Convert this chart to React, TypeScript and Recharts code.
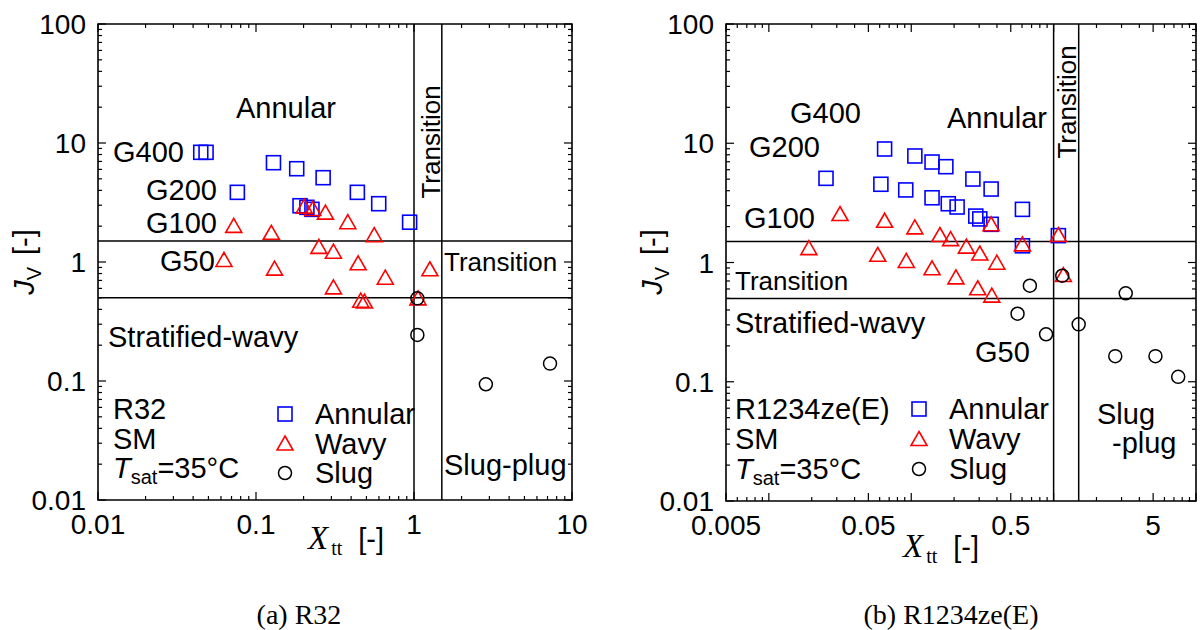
import React from "react";
import {
  ScatterChart,
  Scatter,
  XAxis,
  YAxis,
  ReferenceLine,
  ReferenceArea,
  Legend,
} from "recharts";

type Pt = { x: number; y: number };

// ---- axis ticks ----
const yTicks = [
  0.01, 0.02, 0.03, 0.04, 0.05, 0.06, 0.07, 0.08, 0.09,
  0.1, 0.2, 0.3, 0.4, 0.5, 0.6, 0.7, 0.8, 0.9,
  1, 2, 3, 4, 5, 6, 7, 8, 9,
  10, 20, 30, 40, 50, 60, 70, 80, 90, 100,
];
const yLabels = [0.01, 0.1, 1, 10, 100];

const xTicksA = [
  0.01, 0.02, 0.03, 0.04, 0.05, 0.06, 0.07, 0.08, 0.09,
  0.1, 0.2, 0.3, 0.4, 0.5, 0.6, 0.7, 0.8, 0.9,
  1, 2, 3, 4, 5, 6, 7, 8, 9, 10,
];
const xLabelsA = [0.01, 0.1, 1, 10];

const xTicksB = [
  0.005, 0.006, 0.007, 0.008, 0.009,
  0.01, 0.02, 0.03, 0.04, 0.05, 0.06, 0.07, 0.08, 0.09,
  0.1, 0.2, 0.3, 0.4, 0.5, 0.6, 0.7, 0.8, 0.9,
  1, 2, 3, 4, 5, 6, 7, 8, 9, 10,
];
const xLabelsB = [0.005, 0.05, 0.5, 5];
const decades = [0.01, 0.1, 1, 10, 100];

// flow-pattern boundaries
const boundaryX = [1, 1.5];
const boundaryY = [1.5, 0.5];

const seriesOrder = ["Annular", "Wavy", "Slug"];

// ---- (a) R32 ----
const annularA: Pt[] = [
  { x: 0.0447, y: 8.35 }, { x: 0.0483, y: 8.35 }, { x: 0.129, y: 6.83 },
  { x: 0.181, y: 6.08 }, { x: 0.266, y: 5.11 }, { x: 0.438, y: 3.85 },
  { x: 0.598, y: 3.09 }, { x: 0.938, y: 2.16 }, { x: 0.0762, y: 3.85 },
  { x: 0.19, y: 2.97 }, { x: 0.21, y: 2.88 }, { x: 0.226, y: 2.77 },
];
const wavyA: Pt[] = [
  { x: 0.0723, y: 2.01 }, { x: 0.125, y: 1.76 }, { x: 0.202, y: 2.92 },
  { x: 0.229, y: 2.79 }, { x: 0.275, y: 2.6 }, { x: 0.381, y: 2.16 },
  { x: 0.56, y: 1.68 }, { x: 0.25, y: 1.34 }, { x: 0.309, y: 1.22 },
  { x: 0.443, y: 0.975 }, { x: 0.658, y: 0.738 }, { x: 1.26, y: 0.869 },
  { x: 0.309, y: 0.612 }, { x: 0.46, y: 0.473 }, { x: 0.486, y: 0.465 },
  { x: 1.06, y: 0.495 }, { x: 0.0627, y: 1.04 }, { x: 0.131, y: 0.879 },
];
const slugA: Pt[] = [
  { x: 1.05, y: 0.495 }, { x: 1.05, y: 0.244 },
  { x: 2.85, y: 0.0938 }, { x: 7.26, y: 0.14 },
];

// ---- (b) R1234ze(E) ----
const annularB: Pt[] = [
  { x: 0.0252, y: 5.08 }, { x: 0.065, y: 8.95 }, { x: 0.0612, y: 4.53 },
  { x: 0.106, y: 7.82 }, { x: 0.14, y: 6.96 }, { x: 0.175, y: 6.36 },
  { x: 0.0915, y: 4.06 }, { x: 0.14, y: 3.49 }, { x: 0.182, y: 3.11 },
  { x: 0.21, y: 2.92 }, { x: 0.271, y: 5.01 }, { x: 0.364, y: 4.13 },
  { x: 0.284, y: 2.45 }, { x: 0.303, y: 2.32 }, { x: 0.364, y: 2.09 },
  { x: 0.604, y: 2.79 }, { x: 0.604, y: 1.38 }, { x: 1.08, y: 1.68 },
];
const wavyB: Pt[] = [
  { x: 0.0316, y: 2.55 }, { x: 0.065, y: 2.24 }, { x: 0.106, y: 1.97 },
  { x: 0.159, y: 1.7 }, { x: 0.189, y: 1.57 }, { x: 0.244, y: 1.36 },
  { x: 0.303, y: 1.19 }, { x: 0.399, y: 0.996 }, { x: 0.364, y: 2.09 },
  { x: 0.604, y: 1.42 }, { x: 1.08, y: 1.7 }, { x: 0.0191, y: 1.32 },
  { x: 0.0582, y: 1.16 }, { x: 0.0923, y: 1.03 }, { x: 0.14, y: 0.894 },
  { x: 0.206, y: 0.751 }, { x: 0.293, y: 0.608 }, { x: 0.368, y: 0.527 },
  { x: 1.17, y: 0.785 },
];
const slugB: Pt[] = [
  { x: 0.681, y: 0.639 }, { x: 1.15, y: 0.775 }, { x: 3.21, y: 0.552 },
  { x: 0.558, y: 0.372 }, { x: 0.885, y: 0.25 }, { x: 1.5, y: 0.303 },
  { x: 2.71, y: 0.164 }, { x: 5.19, y: 0.164 }, { x: 7.5, y: 0.11 },
];

const SANS = "'Liberation Sans', Arial, sans-serif";
const SERIF = "'Liberation Serif', 'Times New Roman', serif";
const BLUE = "#0000ff";
const RED = "#ff0000";

function Marker({ kind, cx, cy }: { kind: string; cx: number; cy: number }) {
  if (kind === "Annular")
    return <rect x={cx - 7} y={cy - 7} width={14} height={14} fill="none" stroke={BLUE} strokeWidth={1.6} />;
  if (kind === "Wavy")
    return (
      <polygon
        points={`${cx},${cy - 7.5} ${cx + 8},${cy + 6.5} ${cx - 8},${cy + 6.5}`}
        fill="none"
        stroke={RED}
        strokeWidth={1.6}
      />
    );
  return <circle cx={cx} cy={cy} r={6.5} fill="none" stroke="#000" strokeWidth={1.5} />;
}

const shapeFor = (kind: string) => (p: any) => <Marker kind={kind} cx={p.cx} cy={p.cy} />;

interface PanelProps {
  width: number;
  plotLeft: number;
  plotRight: number;
  plotBottom: number;
  xDomain: [number, number];
  xTicks: number[];
  xLabels: number[];
  annular: Pt[];
  wavy: Pt[];
  slug: Pt[];
  legend: { left: number; top: number; step: number };
  children?: React.ReactNode;
}

const TOP = 24;

function Panel(props: PanelProps) {
  const { width, plotLeft, plotRight, plotBottom, xDomain, xTicks, xLabels, legend } = props;
  const xLong = [...decades, ...xLabels];

  const xTick = (t: any) => {
    const v = t.payload.value;
    const x = t.x;
    const len = xLong.includes(v) ? 8 : 4;
    return (
      <g>
        <line x1={x} x2={x} y1={plotBottom} y2={plotBottom - len} stroke="#000" strokeWidth={1.2} />
        <line x1={x} x2={x} y1={TOP} y2={TOP + len} stroke="#000" strokeWidth={1.2} />
        {xLabels.includes(v) && (
          <text x={x} y={plotBottom + 34} textAnchor="middle" fontFamily={SANS} fontSize={28} fill="#000">
            {String(v)}
          </text>
        )}
      </g>
    );
  };

  const yTick = (t: any) => {
    const v = t.payload.value;
    const y = t.y;
    const len = yLabels.includes(v) ? 8 : 4;
    return (
      <g>
        <line x1={plotLeft} x2={plotLeft + len} y1={y} y2={y} stroke="#000" strokeWidth={1.2} />
        <line x1={plotRight} x2={plotRight - len} y1={y} y2={y} stroke="#000" strokeWidth={1.2} />
        {yLabels.includes(v) && (
          <text x={plotLeft - 12} y={y + 10} textAnchor="end" fontFamily={SANS} fontSize={28} fill="#000">
            {String(v)}
          </text>
        )}
      </g>
    );
  };

  const renderLegend = (lp: any) => {
    const items = [...((lp.payload || []) as any[])].sort(
      (a, b) => seriesOrder.indexOf(a.value) - seriesOrder.indexOf(b.value)
    );
    return (
      <svg width={200} height={100} style={{ display: "block", overflow: "visible" }}>
        {items.map((it, i) => (
          <g key={it.value}>
            <Marker kind={it.value} cx={15} cy={16 + i * legend.step} />
            <text x={45} y={26 + i * legend.step} fontFamily={SANS} fontSize={29} fill="#000">
              {it.value}
            </text>
          </g>
        ))}
      </svg>
    );
  };

  return (
    <div style={{ position: "relative", width, height: 630 }}>
      <ScatterChart
        width={width}
        height={630}
        margin={{ top: TOP, right: width - plotRight, bottom: 630 - plotBottom - 30, left: plotLeft - 60 }}
      >
        <XAxis
          type="number"
          dataKey="x"
          scale="log"
          domain={xDomain}
          allowDataOverflow
          ticks={xTicks}
          interval={0}
          height={30}
          axisLine={false}
          tickLine={false}
          tickSize={0}
          tick={xTick}
        />
        <YAxis
          type="number"
          dataKey="y"
          scale="log"
          domain={[0.01, 100]}
          allowDataOverflow
          ticks={yTicks}
          interval={0}
          width={60}
          axisLine={false}
          tickLine={false}
          tickSize={0}
          tick={yTick}
        />
        <ReferenceArea
          x1={xDomain[0]}
          x2={xDomain[1]}
          y1={0.01}
          y2={100}
          fill="none"
          fillOpacity={0}
          stroke="#000"
          strokeWidth={1.6}
          ifOverflow="visible"
        />
        {boundaryX.map((v) => (
          <ReferenceLine key={`x${v}`} x={v} stroke="#000" strokeWidth={1.5} />
        ))}
        {boundaryY.map((v) => (
          <ReferenceLine key={`y${v}`} y={v} stroke="#000" strokeWidth={1.5} />
        ))}
        <Scatter name="Annular" data={props.annular} shape={shapeFor("Annular")} isAnimationActive={false} />
        <Scatter name="Wavy" data={props.wavy} shape={shapeFor("Wavy")} isAnimationActive={false} />
        <Scatter name="Slug" data={props.slug} shape={shapeFor("Slug")} isAnimationActive={false} />
        <Legend
          layout="vertical"
          align="center"
          verticalAlign="middle"
          content={renderLegend}
          wrapperStyle={{ left: legend.left, top: legend.top, width: 200, height: 100 }}
        />
      </ScatterChart>
      <svg
        width={width}
        height={630}
        style={{ position: "absolute", left: 0, top: 0, pointerEvents: "none" }}
        fontFamily={SANS}
        fill="#000"
      >
        {props.children}
      </svg>
    </div>
  );
}

function Tsat({ x, y }: { x: number; y: number }) {
  return (
    <text x={x} y={y} fontSize={29}>
      <tspan fontStyle="italic">T</tspan>
      <tspan fontSize={20} dy={6}>sat</tspan>
      <tspan dy={-6}>=35°C</tspan>
    </text>
  );
}

function XTitle({ x, y }: { x: number; y: number }) {
  return (
    <text x={x} y={y}>
      <tspan fontFamily={SERIF} fontStyle="italic" fontSize={33}>X</tspan>
      <tspan fontFamily={SERIF} fontSize={20} dy={6} dx={3}>tt</tspan>
      <tspan fontSize={29} dy={-6} dx={16}>[-]</tspan>
    </text>
  );
}

function YTitle({ x, y }: { x: number; y: number }) {
  return (
    <text transform={`translate(${x},${y}) rotate(-90)`} textAnchor="middle">
      <tspan fontStyle="italic" fontSize={29}>J</tspan>
      <tspan fontSize={20} dy={7}>V</tspan>
      <tspan fontSize={29} dy={-7} dx={12}>[-]</tspan>
    </text>
  );
}

export default function App() {
  return (
    <div style={{ position: "relative", width: 1203, height: 630, background: "#fff", overflow: "hidden" }}>
      <style>{"body{margin:0}"}</style>
      <div style={{ position: "absolute", left: 0, top: 0 }}>
        <Panel
          width={600}
          plotLeft={98}
          plotRight={572}
          plotBottom={500}
          xDomain={[0.01, 10]}
          xTicks={xTicksA}
          xLabels={xLabelsA}
          annular={annularA}
          wavy={wavyA}
          slug={slugA}
          legend={{ left: 270, top: 398, step: 29.5 }}
        >
          <text x={236} y={118} fontSize={29}>Annular</text>
          <text x={113} y={162} fontSize={29}>G400</text>
          <text x={146} y={200} fontSize={29}>G200</text>
          <text x={146} y={233} fontSize={29}>G100</text>
          <text x={160} y={271} fontSize={29}>G50</text>
          <text transform="translate(440,142) rotate(-90)" textAnchor="middle" fontSize={26}>Transition</text>
          <text x={444} y={271} fontSize={26}>Transition</text>
          <text x={108} y={347} fontSize={29}>Stratified-wavy</text>
          <text x={444} y={475} fontSize={29}>Slug-plug</text>
          <text x={113} y={419} fontSize={29}>R32</text>
          <text x={113} y={449} fontSize={29}>SM</text>
          <Tsat x={113} y={478} />
          <XTitle x={308} y={549} />
          <YTitle x={34} y={262} />
          <text x={299} y={624} textAnchor="middle" fontFamily={SERIF} fontSize={28}>(a) R32</text>
        </Panel>
      </div>
      <div style={{ position: "absolute", left: 600, top: 0 }}>
        <Panel
          width={603}
          plotLeft={126}
          plotRight={596}
          plotBottom={501}
          xDomain={[0.005, 10]}
          xTicks={xTicksB}
          xLabels={xLabelsB}
          annular={annularB}
          wavy={wavyB}
          slug={slugB}
          legend={{ left: 304, top: 393, step: 30 }}
        >
          <text x={190} y={123} fontSize={29}>G400</text>
          <text x={149} y={157} fontSize={29}>G200</text>
          <text x={144} y={228} fontSize={29}>G100</text>
          <text x={347} y={128} fontSize={29}>Annular</text>
          <text transform="translate(476,102) rotate(-90)" textAnchor="middle" fontSize={26}>Transition</text>
          <text x={135} y={290} fontSize={26}>Transition</text>
          <text x={135} y={333} fontSize={29}>Stratified-wavy</text>
          <text x={375} y={362} fontSize={29}>G50</text>
          <text x={497} y={424} fontSize={29}>Slug</text>
          <text x={512} y={453} fontSize={29}>-plug</text>
          <text x={135} y={419} fontSize={29}>R1234ze(E)</text>
          <text x={135} y={449} fontSize={29}>SM</text>
          <Tsat x={135} y={479} />
          <XTitle x={303} y={557} />
          <YTitle x={62} y={262} />
          <text x={351} y={624} textAnchor="middle" fontFamily={SERIF} fontSize={28}>(b) R1234ze(E)</text>
        </Panel>
      </div>
    </div>
  );
}
